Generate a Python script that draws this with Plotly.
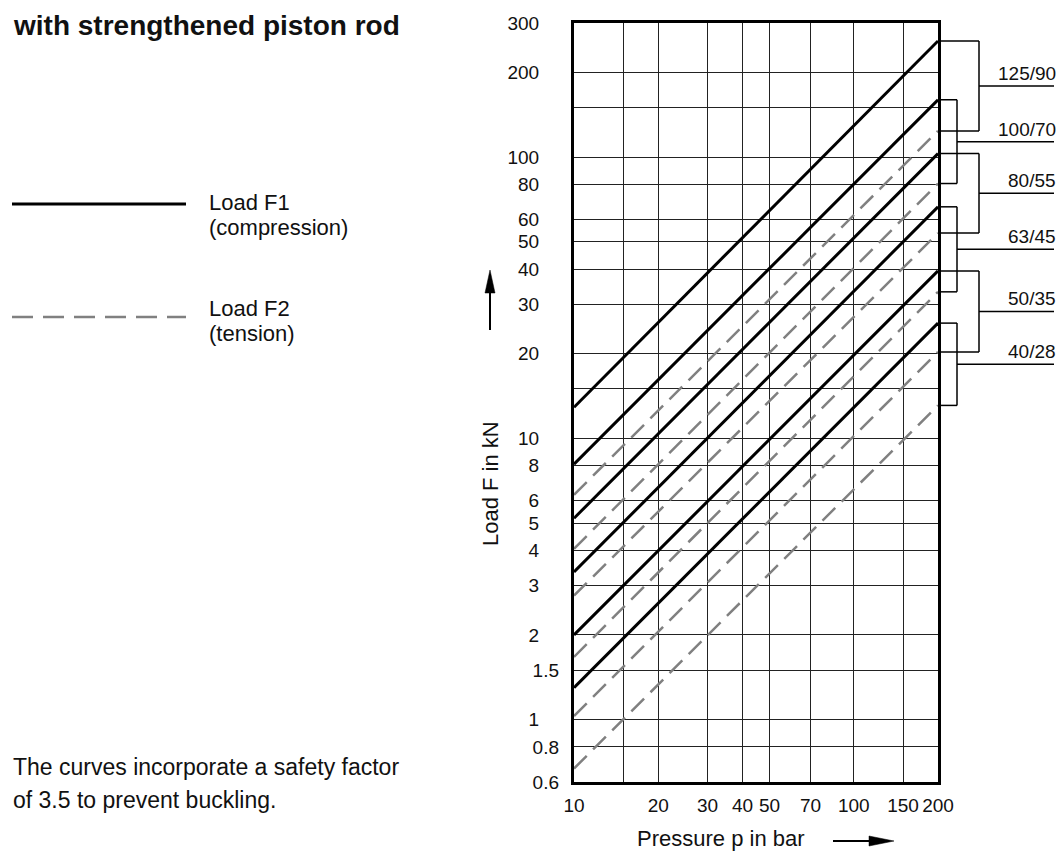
import math
import plotly.graph_objects as go

# ---------------- data ----------------
pressure_ends = [10, 200]                      # bar
sizes = ["125/90", "100/70", "80/55", "63/45", "50/35", "40/28"]
f1_at_10 = [12.9, 8.1, 5.2, 3.35, 2.0, 1.3]    # kN, compression, at 10 bar
f1_at_200 = [259, 160, 103, 66.6, 39.4, 25.7]  # kN, compression, at 200 bar
f2_at_10 = [6.3, 4.05, 2.76, 1.67, 1.03, 0.67]  # kN, tension, at 10 bar
f2_at_200 = [124, 80.6, 53.7, 33.2, 20.3, 13.1]  # kN, tension, at 200 bar

x_ticks = [10, 15, 20, 30, 40, 50, 70, 100, 150, 200]
x_tick_labels = ["10", "", "20", "30", "40", "50", "70", "100", "150", "200"]
y_grid = [0.6, 0.8, 1, 1.5, 2, 3, 4, 5, 6, 8, 10, 15, 20, 30, 40, 50, 60, 80, 100, 150, 200, 300]
y_int_labels = ["", "", "1", "", "2", "3", "4", "5", "6", "8", "10", "", "20", "30",
                "40", "50", "60", "80", "100", "", "200", "300"]
y_dec_ticks = [0.6, 0.8, 1.5]
y_dec_labels = ["0.6", "0.8", "1.5"]

# ---------------- geometry ----------------
W, H = 1061, 852
L, R, T, B = 574, 938, 23, 782
FONT = "Liberation Sans"
INK = "#111111"
GRAY = "#808080"


def xp(px):
    return (px - L) / (R - L)


def yp(py):
    return (B - py) / (B - T)


fig = go.Figure()

for i, name in enumerate(sizes):
    fig.add_trace(go.Scatter(
        x=pressure_ends, y=[f2_at_10[i], f2_at_200[i]], mode="lines",
        line=dict(color=GRAY, width=2.5, dash="18px,9px"),
        name=f"{name} F2", showlegend=False, hoverinfo="skip"))
for i, name in enumerate(sizes):
    fig.add_trace(go.Scatter(
        x=pressure_ends, y=[f1_at_10[i], f1_at_200[i]], mode="lines",
        line=dict(color="black", width=3),
        name=f"{name} F1", showlegend=False, hoverinfo="skip"))

# invisible trace for the secondary (decimal label) axis
fig.add_trace(go.Scatter(x=[10], y=[1], yaxis="y2", mode="markers",
                         marker=dict(opacity=0), showlegend=False, hoverinfo="skip"))

shapes = []
annotations = []

# brackets on the right side
outer_px, inner_px, end_px, label_px = 979, 957, 1054, 1058
for i, name in enumerate(sizes):
    bx = xp(outer_px if i % 2 == 0 else inner_px)
    top = f1_at_200[i]
    bot = f2_at_200[i]
    mid = math.sqrt(top * bot)
    lw = dict(color="black", width=1.5)
    shapes += [
        dict(type="line", xref="paper", yref="y", x0=1, x1=bx, y0=top, y1=top, line=lw),
        dict(type="line", xref="paper", yref="y", x0=bx, x1=bx, y0=top, y1=bot, line=lw),
        dict(type="line", xref="paper", yref="y", x0=1, x1=bx, y0=bot, y1=bot, line=lw),
        dict(type="line", xref="paper", yref="y", x0=bx, x1=xp(end_px), y0=mid, y1=mid, line=lw),
    ]
    annotations.append(dict(
        text=name, xref="paper", yref="y", x=xp(label_px), y=math.log10(mid),
        xanchor="right", yanchor="bottom", showarrow=False, yshift=0,
        font=dict(family=FONT, size=19, color=INK)))

# legend drawn by hand
shapes.append(dict(type="line", xref="paper", yref="paper", x0=xp(12), x1=xp(186),
                   y0=yp(204), y1=yp(204), line=dict(color="black", width=3)))
shapes.append(dict(type="line", xref="paper", yref="paper", x0=xp(12), x1=xp(186),
                   y0=yp(317), y1=yp(317), line=dict(color=GRAY, width=2.5, dash="21px,10px")))


def text_at(txt, px, py, size, anchor="left", bold=False, angle=0):
    annotations.append(dict(
        text=f"<b>{txt}</b>" if bold else txt, xref="paper", yref="paper",
        x=xp(px), y=yp(py), xanchor=anchor, yanchor="middle", showarrow=False,
        textangle=angle, font=dict(family=FONT, size=size, color=INK)))


text_at("with strengthened piston rod", 11, 25, 28, bold=True)
text_at("Load F1", 207, 203, 22)
text_at("(compression)", 207, 227, 22)
text_at("Load F2", 207, 308, 22)
text_at("(tension)", 207, 333, 22)
text_at("The curves incorporate a safety factor", 11, 767, 23)
text_at("of 3.5 to prevent buckling.", 11, 800, 23)
text_at("Load F in kN", 490, 484, 22, anchor="center", angle=-90)
text_at("Pressure p in bar", 721, 838, 22, anchor="center")

# arrows
shapes.append(dict(type="line", xref="paper", yref="paper", x0=xp(490), x1=xp(490),
                   y0=yp(290), y1=yp(330), line=dict(color="black", width=2)))
shapes.append(dict(type="path", xref="paper", yref="paper",
                   path=f"M {xp(490)},{yp(270)} L {xp(485)},{yp(293)} L {xp(495)},{yp(293)} Z",
                   fillcolor="black", line=dict(color="black", width=0.5)))
shapes.append(dict(type="line", xref="paper", yref="paper", x0=xp(833), x1=xp(872),
                   y0=yp(841), y1=yp(841), line=dict(color="black", width=2)))
shapes.append(dict(type="path", xref="paper", yref="paper",
                   path=f"M {xp(894)},{yp(841)} L {xp(869)},{yp(836)} L {xp(869)},{yp(846)} Z",
                   fillcolor="black", line=dict(color="black", width=0.5)))

y_range = [math.log10(0.6), math.log10(300)]
tickfont = dict(family=FONT, size=19, color=INK)

fig.update_layout(
    width=W, height=H, autosize=False,
    margin=dict(l=L, r=W - R, t=T, b=H - B, pad=0),
    paper_bgcolor="white", plot_bgcolor="white",
    showlegend=False,
    xaxis=dict(type="log", range=[1, math.log10(200)], tickvals=x_ticks,
               ticktext=x_tick_labels, showgrid=True, gridcolor="#222222", gridwidth=1,
               showline=True, mirror=True, linecolor="black", linewidth=3,
               ticks="", zeroline=False, tickfont=tickfont, ticklabelstandoff=4,
               fixedrange=True),
    yaxis=dict(type="log", range=y_range, tickvals=y_grid, ticktext=y_int_labels,
               showgrid=True, gridcolor="#222222", gridwidth=1,
               showline=True, mirror=True, linecolor="black", linewidth=3,
               ticks="", zeroline=False, tickfont=tickfont, ticklabelstandoff=28,
               fixedrange=True),
    yaxis2=dict(type="log", range=y_range, overlaying="y", side="left", anchor="x",
                tickvals=y_dec_ticks, ticktext=y_dec_labels, showgrid=False,
                showline=False, ticks="", zeroline=False, tickfont=tickfont,
                ticklabelstandoff=14, fixedrange=True),
    shapes=shapes,
    annotations=annotations,
)

fig.write_html("out.html", config={"displayModeBar": False},
               post_script="document.body.style.margin='0px';document.body.style.overflow='hidden';")
